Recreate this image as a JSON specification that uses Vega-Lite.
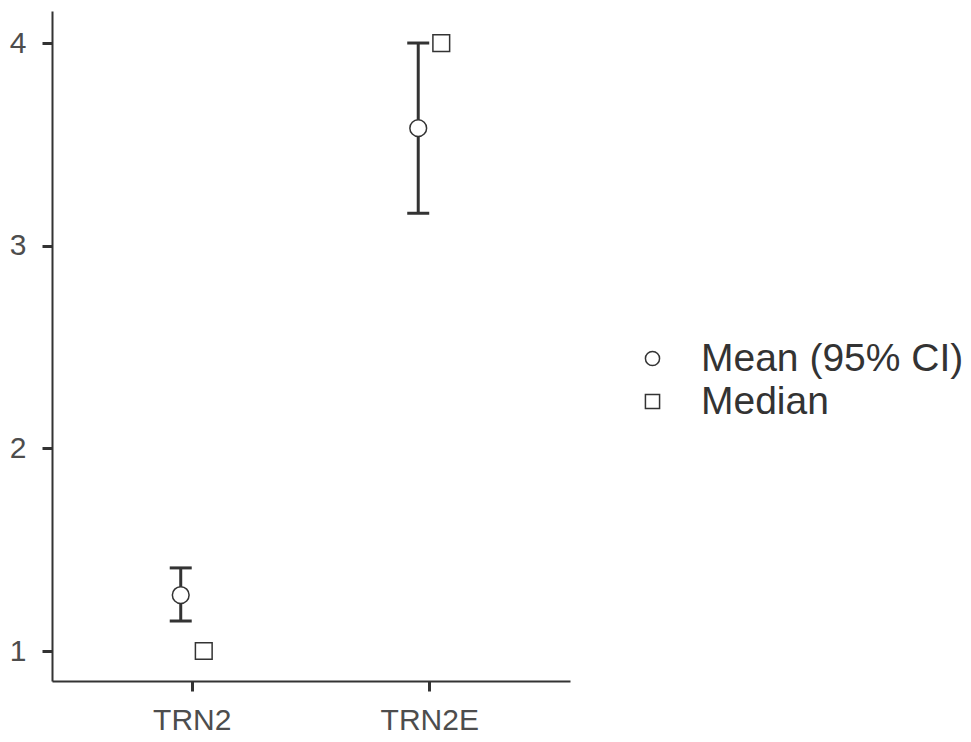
{
  "$schema": "https://vega.github.io/schema/vega-lite/v6.json",
  "width": 518,
  "height": 670,
  "autosize": {"type": "none"},
  "padding": {"left": 52, "top": 11, "right": 401, "bottom": 61},
  "background": "white",
  "config": {
    "view": {"stroke": null},
    "axis": {
      "grid": false,
      "domainColor": "#333333",
      "domainWidth": 2,
      "tickColor": "#333333",
      "tickWidth": 3,
      "tickSize": 10,
      "labelFont": "Liberation Sans",
      "labelFontSize": 30,
      "labelColor": "#4d4d4d",
      "title": null
    },
    "legend": {
      "labelFont": "Liberation Sans",
      "labelFontSize": 39,
      "labelColor": "#333333",
      "labelLimit": 0,
      "padding": 0
    }
  },
  "data": {
    "values": [
      {"group": "TRN2", "stat": "Mean (95% CI)", "value": 1.276, "lower": 1.148, "upper": 1.41},
      {"group": "TRN2", "stat": "Median", "value": 1.0},
      {"group": "TRN2E", "stat": "Mean (95% CI)", "value": 3.58, "lower": 3.16, "upper": 4.0},
      {"group": "TRN2E", "stat": "Median", "value": 4.0}
    ]
  },
  "encoding": {
    "x": {
      "field": "group",
      "type": "nominal",
      "scale": {"paddingInner": 0.806, "paddingOuter": 0.4935},
      "axis": {"labelAngle": 0, "labelPadding": 14, "title": null}
    },
    "xOffset": {
      "field": "stat",
      "type": "nominal",
      "scale": {"domain": ["Mean (95% CI)", "Median"]}
    }
  },
  "layer": [
    {
      "transform": [{"filter": "datum.stat === 'Mean (95% CI)'"}],
      "mark": {"type": "rule", "strokeWidth": 3, "color": "#333333"},
      "encoding": {
        "y": {
          "field": "lower",
          "type": "quantitative",
          "scale": {"domain": [0.852, 4.158], "nice": false, "zero": false},
          "axis": {"values": [1, 2, 3, 4], "format": "d", "labelPadding": 16, "title": null}
        },
        "y2": {"field": "upper"}
      }
    },
    {
      "transform": [{"filter": "datum.stat === 'Mean (95% CI)'"}],
      "mark": {"type": "tick", "size": 22, "thickness": 3, "color": "#333333", "opacity": 1, "orient": "horizontal"},
      "encoding": {"y": {"field": "lower", "type": "quantitative"}}
    },
    {
      "transform": [{"filter": "datum.stat === 'Mean (95% CI)'"}],
      "mark": {"type": "tick", "size": 22, "thickness": 3, "color": "#333333", "opacity": 1, "orient": "horizontal"},
      "encoding": {"y": {"field": "upper", "type": "quantitative"}}
    },
    {
      "mark": {"type": "point", "filled": false, "fill": "white", "strokeWidth": 1.5, "opacity": 1, "size": 280},
      "encoding": {
        "y": {"field": "value", "type": "quantitative"},
        "color": {
          "field": "stat",
          "type": "nominal",
          "scale": {"domain": ["Mean (95% CI)", "Median"], "range": ["#333333", "#333333"]},
          "legend": {
            "title": null,
            "orient": "none",
            "legendX": 581,
            "legendY": 328,
            "symbolSize": 200,
            "symbolStrokeWidth": 1.5,
            "labelOffset": 29,
            "rowPadding": 3
          }
        },
        "shape": {
          "field": "stat",
          "type": "nominal",
          "scale": {"domain": ["Mean (95% CI)", "Median"], "range": ["circle", "square"]},
          "legend": {
            "title": null,
            "orient": "none",
            "legendX": 581,
            "legendY": 328,
            "symbolSize": 200,
            "symbolStrokeWidth": 1.5,
            "labelOffset": 29,
            "rowPadding": 3
          }
        }
      }
    }
  ]
}
